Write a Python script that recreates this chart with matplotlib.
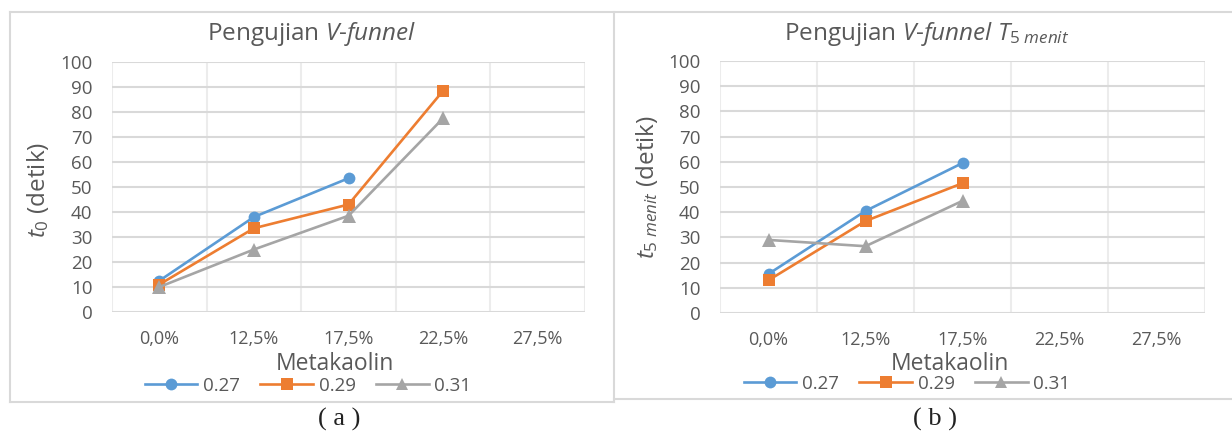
import matplotlib
matplotlib.use('Agg')
import matplotlib.pyplot as plt
import numpy as np
from matplotlib.lines import Line2D

# ---- data ----
categories = ['0,0%', '12,5%', '17,5%', '22,5%', '27,5%']
series_names = ['0.27', '0.29', '0.31']

# V-funnel t0 (detik)
t0_027 = [12.5, 38.0, 53.5, np.nan, np.nan]
t0_029 = [11.0, 33.5, 43.0, 88.5, np.nan]
t0_031 = [10.0, 25.0, 38.5, 77.5, np.nan]

# V-funnel t 5 menit (detik)
t5_027 = [15.5, 40.5, 59.5, np.nan, np.nan]
t5_029 = [13.0, 36.5, 51.5, np.nan, np.nan]
t5_031 = [29.0, 26.5, 44.5, np.nan, np.nan]

colors = ['#5B9BD5', '#ED7D31', '#A5A5A5']
markers = ['o', 's', '^']
text_color = '#595959'
grid_h = '#d9d9d9'
grid_v = '#ececec'

FONT = 'Open Sans'
plt.rcParams['font.family'] = [FONT, 'DejaVu Sans']
plt.rcParams['mathtext.fontset'] = 'custom'
plt.rcParams['mathtext.rm'] = FONT
plt.rcParams['mathtext.it'] = FONT + ':italic'

W, H = 1232, 434
fig = plt.figure(figsize=(W / 100, H / 100), dpi=100)


def px_axes(x0, x1, ytop, ybot):
    return fig.add_axes([x0 / W, 1 - ybot / H, (x1 - x0) / W, (ybot - ytop) / H])


def draw_panel(ax, data):
    x = np.arange(len(categories))
    for vals, c, m in zip(data, colors, markers):
        ms = 9.5 if m == '^' else 8.5
        ax.plot(x, vals, color=c, marker=m, markersize=ms, lw=1.9,
                markeredgewidth=0, zorder=3)
    ax.set_xlim(-0.5, len(categories) - 0.5)
    ax.set_ylim(0, 100)
    ax.set_yticks(range(0, 101, 10))
    ax.set_xticks(x)
    ax.set_xticklabels(categories)
    ax.set_xticks(np.arange(-0.5, len(categories), 0.5), minor=True)
    ax.set_axisbelow(True)
    ax.yaxis.grid(True, color=grid_h, lw=1.5)
    ax.xaxis.grid(True, which='minor', color=grid_v, lw=1.5)
    for s in ax.spines.values():
        s.set_visible(False)
    ax.tick_params(axis='both', which='both', length=0, labelcolor=text_color,
                   labelsize=13)
    ax.tick_params(axis='x', pad=13)
    ax.tick_params(axis='y', labelsize=13.5, pad=14)


ax1 = px_axes(112, 585, 62, 312)
draw_panel(ax1, [t0_027, t0_029, t0_031])
ax2 = px_axes(720, 1205, 61, 313)
draw_panel(ax2, [t5_027, t5_029, t5_031])

# titles
fig.text(312 / W, 1 - 34 / H, r'Pengujian $V$-$funnel$', ha='center', va='center',
         fontsize=17.5, color=text_color)
fig.text(927 / W, 1 - 34 / H, r'Pengujian $V$-$funnel$ $T_{\mathit{5\ menit}}$',
         ha='center', va='center', fontsize=17.5, color=text_color)

# axis titles
fig.text(38 / W, 1 - 190 / H, r'$t_{\mathit{0}}$ (detik)', rotation=90, ha='center',
         va='center', fontsize=17.5, color=text_color)
fig.text(647 / W, 1 - 187 / H, r'$t_{\mathit{5\ menit}}$ (detik)', rotation=90,
         ha='center', va='center', fontsize=17.5, color=text_color)
fig.text(335 / W, 1 - 364 / H, 'Metakaolin', ha='center', va='center',
         fontsize=16.5, color=text_color)
fig.text(950 / W, 1 - 364 / H, 'Metakaolin', ha='center', va='center',
         fontsize=16.5, color=text_color)

# legends
handles = [Line2D([], [], color=c, marker=m, lw=1.9, markersize=8.5, markeredgewidth=0)
           for c, m in zip(colors, markers)]
for cx, cy in [(308, 386), (907, 384)]:
    leg = fig.legend(handles, series_names, loc='center', bbox_to_anchor=(cx / W, 1 - cy / H),
                     ncol=3, frameon=False, fontsize=13.5, handlelength=2.8,
                     handletextpad=0.3, columnspacing=1.1, borderpad=0)
    for t in leg.get_texts():
        t.set_color(text_color)

# chart frames
border = '#d9d9d9'
def hline(y, x0, x1):
    fig.add_artist(Line2D([x0 / W, x1 / W], [1 - y / H, 1 - y / H], color=border, lw=1.5))
def vline(x, y0, y1):
    fig.add_artist(Line2D([x / W, x / W], [1 - y0 / H, 1 - y1 / H], color=border, lw=1.5))

hline(12, 10, 1232)
hline(402, 10, 614)
hline(399, 614, 1232)
vline(10, 12, 402)
vline(614, 12, 402)

# panel captions
fig.text(339 / W, 1 - 419 / H, '( a )', ha='center', va='center', fontsize=19,
         color='#222222', family=['Liberation Serif', 'DejaVu Serif'])
fig.text(935 / W, 1 - 419 / H, '( b )', ha='center', va='center', fontsize=19,
         color='#222222', family=['Liberation Serif', 'DejaVu Serif'])

fig.savefig('out.png', dpi=100)
